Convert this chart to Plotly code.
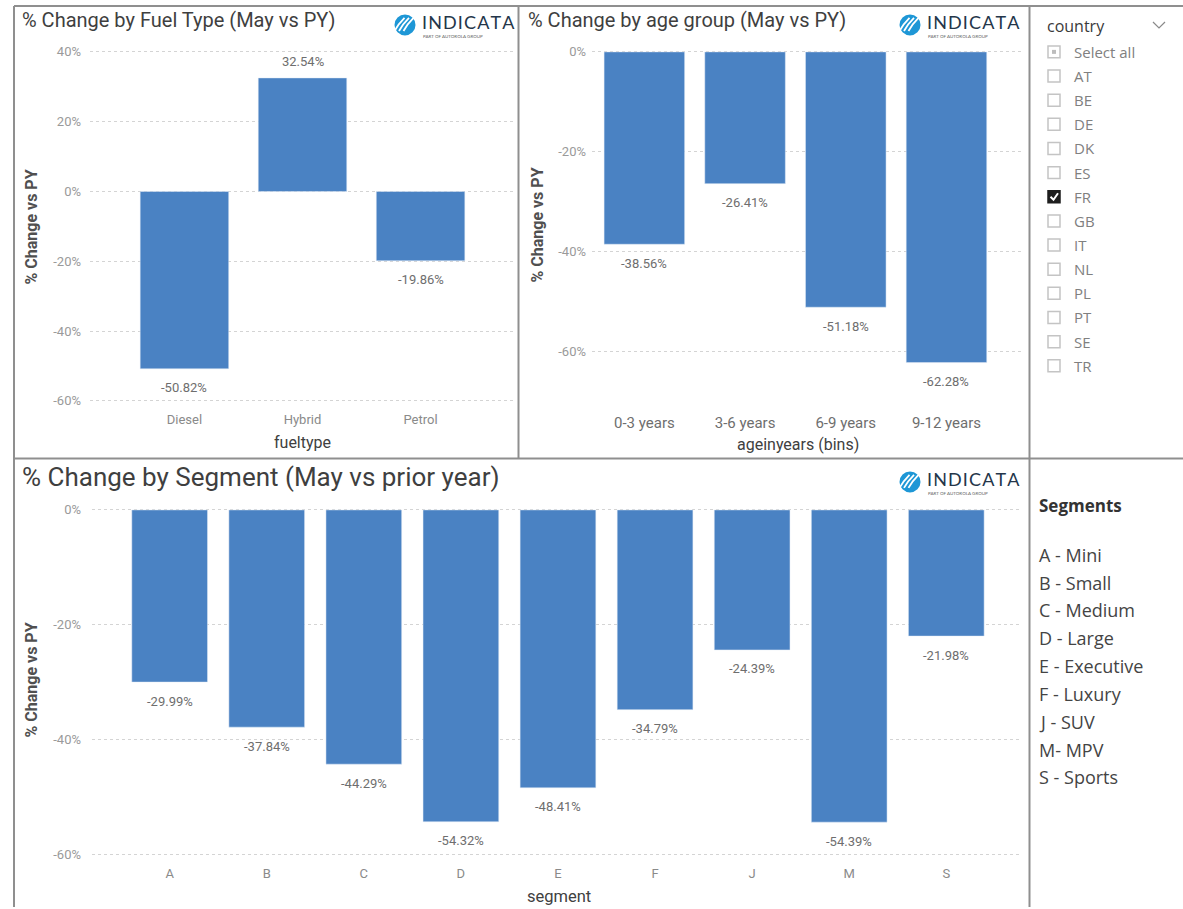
import plotly.graph_objects as go

# ---- data ----
fuel_types = ["Diesel", "Hybrid", "Petrol"]
fuel_change = [-50.82, 32.54, -19.86]

age_groups = ["0-3 years", "3-6 years", "6-9 years", "9-12 years"]
age_change = [-38.56, -26.41, -51.18, -62.28]

segments = ["A", "B", "C", "D", "E", "F", "J", "M", "S"]
segment_change = [-29.99, -37.84, -44.29, -54.32, -48.41, -34.79, -24.39, -54.39, -21.98]

fuel_ticks = [-60, -40, -20, 0, 20, 40]
age_ticks = [-60, -40, -20, 0]
segment_ticks = [-60, -40, -20, 0]

countries = ["AT", "BE", "DE", "DK", "ES", "FR", "GB", "IT", "NL", "PL", "PT", "SE", "TR"]
selected_country = "FR"

segment_names = ["A - Mini", "B - Small", "C - Medium", "D - Large", "E - Executive",
                 "F - Luxury", "J - SUV", "M- MPV", "S - Sports"]

# ---- canvas helpers (pixel -> paper) ----
W, H = 1183, 909
BAR = "#4a82c3"
GRID = "#d4d4d4"
TITLE_FONT = "Roboto"
BODY_FONT = "Open Sans"


def px(x):
    return x / W


def py(y):
    return 1 - y / H


def pct(vals):
    return [f"{v}%" for v in vals]


fig = go.Figure()

fig.add_trace(go.Bar(x=fuel_types, y=fuel_change, marker_color=BAR, width=0.75,
                     xaxis="x", yaxis="y", showlegend=False, hoverinfo="x+y"))
fig.add_trace(go.Bar(x=age_groups, y=age_change, marker_color=BAR, width=0.8,
                     xaxis="x2", yaxis="y2", showlegend=False, hoverinfo="x+y"))
fig.add_trace(go.Bar(x=segments, y=segment_change, marker_color=BAR, width=0.78,
                     xaxis="x3", yaxis="y3", showlegend=False, hoverinfo="x+y"))

annotations = []
shapes = []


def value_labels(cats, vals, xref, yref):
    for c, v in zip(cats, vals):
        annotations.append(dict(
            x=c, y=v, xref=xref, yref=yref, text=f"{v:.2f}%", showarrow=False,
            yshift=-19 if v < 0 else 16,
            font=dict(family=TITLE_FONT, size=13, color="#6e6e6e")))


value_labels(fuel_types, fuel_change, "x", "y")
value_labels(age_groups, age_change, "x2", "y2")
value_labels(segments, segment_change, "x3", "y3")

# ---- axes ----
ytick_font = dict(family=TITLE_FONT, size=13, color="#9a9a9a")
common_y = dict(showgrid=True, gridcolor=GRID, griddash="dot",
                gridwidth=1, zeroline=False, showline=False, ticks="",
                tickfont=ytick_font)
common_x = dict(showgrid=False, zeroline=False, showline=False, ticks="")

fig.update_layout(
    xaxis=dict(common_x, domain=[px(90), px(515)], range=[-0.8, 2.8],
               tickfont=dict(family=TITLE_FONT, size=13, color="#8a8a8a"),
               ticklabelstandoff=4, anchor="y"),
    yaxis=dict(common_y, domain=[py(407), py(45)], range=[-61.5, 42],
               tickvals=fuel_ticks, ticktext=pct(fuel_ticks),
               ticklabelstandoff=8, anchor="x"),
    xaxis2=dict(common_x, domain=[px(592), px(1022)], range=[-0.52, 3.75],
                tickfont=dict(family=TITLE_FONT, size=15, color="#6e6e6e"),
                ticklabelstandoff=15, anchor="y2"),
    yaxis2=dict(common_y, domain=[py(398), py(45)], range=[-69.2, 1.4],
                tickvals=age_ticks, ticktext=pct(age_ticks),
                ticklabelstandoff=5, anchor="x2"),
    xaxis3=dict(common_x, domain=[px(92), px(1022)], range=[-0.8, 8.78],
                tickfont=dict(family=TITLE_FONT, size=13, color="#8a8a8a"),
                ticklabelstandoff=4, anchor="y3"),
    yaxis3=dict(common_y, domain=[py(862), py(503)], range=[-61, 1.4],
                tickvals=segment_ticks, ticktext=pct(segment_ticks),
                ticklabelstandoff=10, anchor="x3"),
)


# ---- chart titles & axis titles ----
def text(x, y, s, size, color, family=TITLE_FONT, xanchor="left", angle=0, bold=False):
    annotations.append(dict(
        x=px(x), y=py(y), xref="paper", yref="paper", text=f"<b>{s}</b>" if bold else s,
        showarrow=False, xanchor=xanchor, yanchor="middle", textangle=angle,
        font=dict(family=family, size=size, color=color)))


text(20, 20, "% Change by Fuel Type (May vs PY)", 20, "#3f3f3f")
text(526, 20, "% Change by age group (May vs PY)", 20, "#3f3f3f")
text(20, 478, "% Change by Segment (May vs prior year)", 26, "#3f3f3f")

text(31, 228, "% Change vs PY", 16, "#505050", angle=-90, xanchor="center", bold=True)
text(538, 226, "% Change vs PY", 16, "#505050", angle=-90, xanchor="center", bold=True)
text(31, 682, "% Change vs PY", 16, "#505050", angle=-90, xanchor="center", bold=True)

text(302, 443, "fueltype", 16, "#404040", xanchor="center")
text(798, 445, "ageinyears (bins)", 16, "#404040", xanchor="center")
text(559, 898, "segment", 16.5, "#404040", xanchor="center")


# ---- INDICATA logo marks ----
def logo(cx, cy):
    r = 10.5
    shapes.append(dict(type="circle", xref="paper", yref="paper",
                       x0=px(cx - r), x1=px(cx + r), y0=py(cy + r), y1=py(cy - r),
                       fillcolor="#1e97d6", line=dict(width=0)))
    for k in range(3):
        off = -4.5 + 4.5 * k
        shapes.append(dict(
            type="path", xref="paper", yref="paper",
            path=(f"M {px(cx - 6 + off)} {py(cy + 6)} "
                  f"Q {px(cx - 2 + off)} {py(cy - 1)} {px(cx + 4 + off)} {py(cy - 7)}"),
            line=dict(color="white", width=1.8)))
    annotations.append(dict(
        x=px(cx + 15), y=py(cy - 2.5), xref="paper", yref="paper",
        text="I\u200aN\u200aD\u200aI\u200aC\u200aA\u200aT\u200aA", showarrow=False,
        xanchor="left", yanchor="middle",
        font=dict(family="Lato", size=18, color="#24364a")))
    annotations.append(dict(
        x=px(cx + 16), y=py(cy + 12), xref="paper", yref="paper",
        text="PART OF AUTOROLA GROUP", showarrow=False, xanchor="left", yanchor="middle",
        font=dict(family="Lato", size=4.5, color="#666666")))


logo(405, 25)
logo(910, 25)
logo(910, 483)

# ---- country slicer ----
text(1045, 26, "country", 16, "#3a3a3a", family=BODY_FONT)
shapes.append(dict(type="path", xref="paper", yref="paper",
                   path=f"M {px(1153)} {py(22)} L {px(1159)} {py(28)} L {px(1165)} {py(22)}",
                   line=dict(color="#8a8a8a", width=1.2)))

rows = ["Select all"] + countries
for i, label in enumerate(rows):
    y = 52 + i * 24.2
    checked = label == selected_country
    shapes.append(dict(type="rect", xref="paper", yref="paper",
                       x0=px(1048), x1=px(1060), y0=py(y + 6), y1=py(y - 6),
                       fillcolor="#1e1e1e" if checked else "white",
                       line=dict(color="#1e1e1e" if checked else "#c4c4c4", width=1.5)))
    if label == "Select all":
        shapes.append(dict(type="rect", xref="paper", yref="paper",
                           x0=px(1052), x1=px(1056), y0=py(y + 2), y1=py(y - 2),
                           fillcolor="#bdbdbd", line=dict(width=0)))
    if checked:
        shapes.append(dict(type="path", xref="paper", yref="paper",
                           path=(f"M {px(1050.5)} {py(y)} L {px(1053.5)} {py(y + 3)} "
                                 f"L {px(1058)} {py(y - 3.5)}"),
                           line=dict(color="white", width=2)))
    text(1072, y, label, 15, "#808080", family=BODY_FONT)

# ---- segments key ----
text(1037, 507, "Segments", 17, "#333333", family=BODY_FONT, bold=True)
for i, name in enumerate(segment_names):
    text(1037, 556 + i * 27.9, name, 18, "#444444", family=BODY_FONT)

# ---- panel frame ----
FRAME = dict(color="#8f8f8f", width=2)
for x0, y0, x1, y1 in [(14, 6, 1183, 6), (14, 6, 14, 909), (14, 459.5, 1183, 459.5),
                       (518.5, 6, 518.5, 459.5), (1029.5, 6, 1029.5, 909)]:
    shapes.append(dict(type="line", xref="paper", yref="paper",
                       x0=px(x0), y0=py(y0), x1=px(x1), y1=py(y1), line=FRAME))

fig.update_layout(
    width=W, height=H, margin=dict(l=0, r=0, t=0, b=0),
    paper_bgcolor="white", plot_bgcolor="white",
    annotations=annotations, shapes=shapes, bargap=0.2,
    font=dict(family=TITLE_FONT),
)

fig.write_html("out.html")
